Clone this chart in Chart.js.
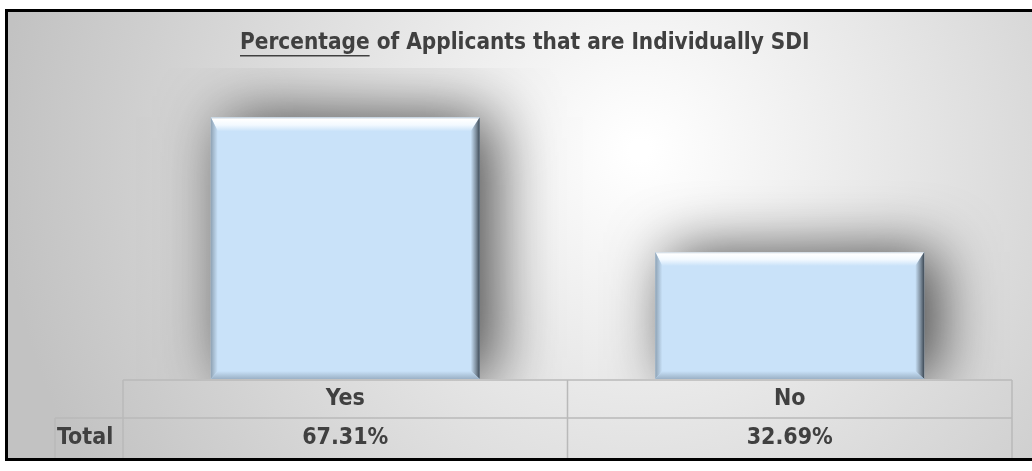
<!DOCTYPE html>
<html lang="en">
<head>
<meta charset="UTF-8">
<title>Individually SDI</title>
<script src="https://cdn.jsdelivr.net/npm/chart.js"></script>
<style>
  body { margin: 0; background: #fff; }
  canvas { display: block; }
</style>
</head>
<body>
<canvas id="sdiChart" width="1032" height="471"></canvas>
<script>
const categories = ['Yes', 'No'];
const percentages = [67.31, 32.69];
const rowLabel = 'Total';
const titleUnderlined = 'Percentage';
const titleRest = ' of Applicants that are Individually SDI';

const FONT = "'DejaVu Sans Condensed', 'Liberation Sans Narrow', sans-serif";
const TEXT = '#404040';
const GRID = '#b9b9b9';
const BAR = '#c9e2f9';

// grey radial backdrop behind everything
const backdrop = {
  id: 'backdrop',
  beforeDraw(chart) {
    const ctx = chart.ctx;
    ctx.save();
    ctx.fillStyle = '#fff';
    ctx.fillRect(0, 0, chart.width, chart.height);
    const g = ctx.createRadialGradient(640, 150, 10, 640, 150, 640);
    g.addColorStop(0, '#ffffff');
    g.addColorStop(1, '#c2c2c2');
    ctx.fillStyle = g;
    ctx.fillRect(6, 10, chart.width, 450);
    ctx.restore();
  }
};

// soft drop shadow under the bars
const barShadow = {
  id: 'barShadow',
  beforeDatasetsDraw(chart) {
    const ctx = chart.ctx;
    ctx.save();
    ctx.shadowColor = 'rgba(0,0,0,0.7)';
    ctx.shadowBlur = 60;
    ctx.shadowOffsetX = 14;
    ctx.shadowOffsetY = 0;
  },
  afterDatasetsDraw(chart) {
    chart.ctx.restore();
  }
};

// bevelled edges on each bar
function quad(ctx, pts, fill) {
  ctx.beginPath();
  ctx.moveTo(pts[0][0], pts[0][1]);
  for (let i = 1; i < pts.length; i++) ctx.lineTo(pts[i][0], pts[i][1]);
  ctx.closePath();
  ctx.fillStyle = fill;
  ctx.fill();
}

const bevel = {
  id: 'bevel',
  afterDatasetsDraw(chart) {
    const ctx = chart.ctx;
    const bt = 14, bs = 7, bb = 8, br = 9;
    chart.getDatasetMeta(0).data.forEach(bar => {
      const l = bar.x - bar.width / 2, r = bar.x + bar.width / 2;
      const t = bar.y, b = bar.base;
      ctx.save();

      let g = ctx.createLinearGradient(0, t, 0, t + bt);
      g.addColorStop(0, '#c7d3de');
      g.addColorStop(0.15, '#ffffff');
      g.addColorStop(0.55, '#f2f9ff');
      g.addColorStop(1, BAR);
      quad(ctx, [[l, t], [r, t], [r - br, t + bt], [l + bs, t + bt]], g);

      g = ctx.createLinearGradient(l, 0, l + bs, 0);
      g.addColorStop(0, '#8ea2b4');
      g.addColorStop(1, BAR);
      quad(ctx, [[l, t], [l + bs, t + bt], [l + bs, b - bb], [l, b]], g);

      g = ctx.createLinearGradient(r - br, 0, r, 0);
      g.addColorStop(0, BAR);
      g.addColorStop(0.6, '#7d8d9c');
      g.addColorStop(1, '#3c4854');
      quad(ctx, [[r, t], [r - br, t + bt], [r - br, b - bb], [r, b]], g);

      g = ctx.createLinearGradient(0, b - bb, 0, b);
      g.addColorStop(0, BAR);
      g.addColorStop(1, '#9bb1c6');
      quad(ctx, [[l, b], [l + bs, b - bb], [r - br, b - bb], [r, b]], g);

      ctx.restore();
    });
  }
};

// title, data table and frame
const decorations = {
  id: 'decorations',
  afterDraw(chart) {
    const ctx = chart.ctx;
    const area = chart.chartArea;
    const x = chart.scales.x;
    ctx.save();

    // title with underlined first word
    ctx.font = 'bold 22.4px ' + FONT;
    ctx.fillStyle = TEXT;
    ctx.textBaseline = 'middle';
    const w1 = ctx.measureText(titleUnderlined).width;
    const w2 = ctx.measureText(titleRest).width;
    const tx = 240, ty = 43;
    ctx.textAlign = 'left';
    ctx.fillText(titleUnderlined, tx, ty);
    ctx.fillText(titleRest, tx + w1, ty);
    ctx.fillRect(tx, ty + 12, w1, 1.5);

    // table grid
    const colW = (area.right - area.left) / categories.length;
    const top = area.bottom + 1, mid = top + 38, bottom = 459;
    ctx.strokeStyle = GRID;
    ctx.lineWidth = 1.5;
    ctx.beginPath();
    ctx.moveTo(area.left, top); ctx.lineTo(area.right, top);
    ctx.moveTo(55, mid); ctx.lineTo(area.right, mid);
    ctx.moveTo(55, mid); ctx.lineTo(55, bottom);
    for (let i = 0; i <= categories.length; i++) {
      const cx = area.left + i * colW;
      ctx.moveTo(cx, top); ctx.lineTo(cx, bottom);
    }
    ctx.stroke();

    ctx.font = 'bold 23px ' + FONT;
    ctx.fillStyle = TEXT;
    ctx.textAlign = 'center';
    categories.forEach((c, i) => {
      const cx = x.getPixelForValue(i);
      ctx.fillText(c, cx, top + 19);
      ctx.fillText(percentages[i].toFixed(2) + '%', cx, mid + 20);
    });
    ctx.textAlign = 'left';
    ctx.fillText(rowLabel, 57, mid + 20);

    // black frame
    ctx.strokeStyle = '#000';
    ctx.lineWidth = 3;
    ctx.strokeRect(6.5, 10.5, chart.width + 20, 449);
    ctx.restore();
  }
};

new Chart(document.getElementById('sdiChart'), {
  type: 'bar',
  data: {
    labels: categories,
    datasets: [{
      label: rowLabel,
      data: percentages,
      backgroundColor: BAR,
      borderWidth: 0,
      barPercentage: 0.605,
      categoryPercentage: 1
    }]
  },
  options: {
    responsive: false,
    animation: false,
    layout: { padding: { left: 123, right: 20, top: 68, bottom: 92 } },
    plugins: { legend: { display: false }, tooltip: { enabled: false } },
    scales: {
      x: { display: false },
      y: { display: false, min: 0, max: 80 }
    }
  },
  plugins: [backdrop, barShadow, bevel, decorations]
});
</script>
</body>
</html>
